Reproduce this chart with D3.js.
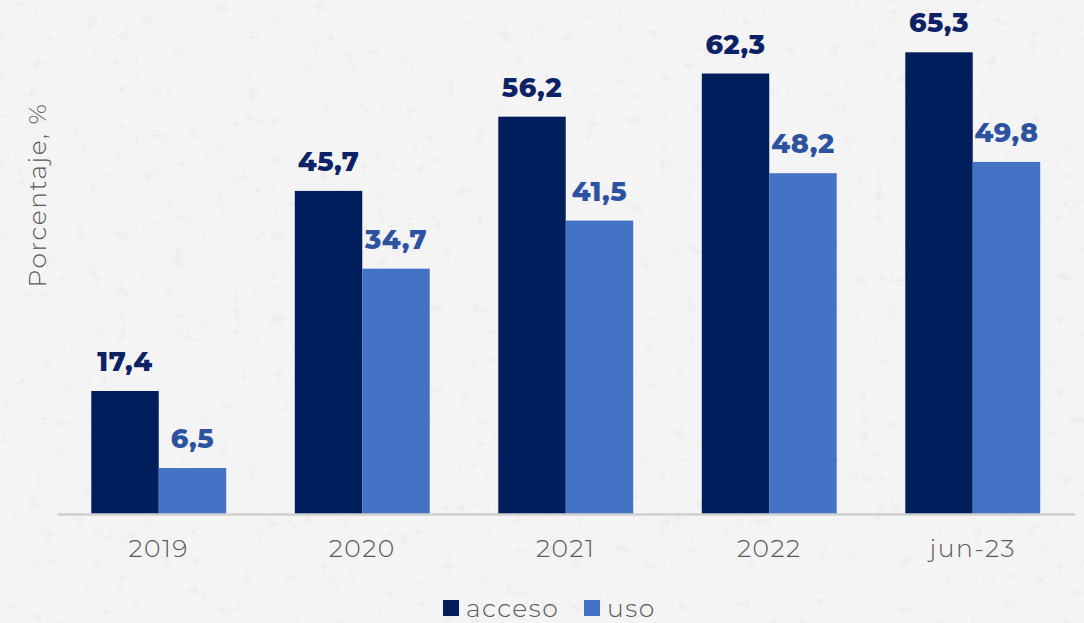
<!DOCTYPE html>
<html>
<head>
<meta charset="utf-8">
<script src="https://cdn.jsdelivr.net/npm/d3@7"></script>
<style>
  html, body { margin: 0; padding: 0; background: #f3f3f3; }
  svg { display: block; }
</style>
</head>
<body>
<svg id="chart" width="1084" height="623"></svg>
<script>
// Data
const categories = ["2019", "2020", "2021", "2022", "jun-23"];
const acceso = [17.4, 45.7, 56.2, 62.3, 65.3];
const uso = [6.5, 34.7, 41.5, 48.2, 49.8];
const seriesNames = ["acceso", "uso"];

const colors = { acceso: "#001e5b", uso: "#4472c4" };
const labelColors = { acceso: "#0d2266", uso: "#2d53a0" };
const fontFamily = "Montserrat, 'Open Sans', 'Noto Sans', sans-serif";

const W = 1084, H = 623;
const svg = d3.select("#chart");

// Speckled stone background texture
const defs = svg.append("defs");
const f = defs.append("filter").attr("id", "speckle")
  .attr("filterUnits", "userSpaceOnUse")
  .attr("x", 0).attr("y", 0).attr("width", W).attr("height", H);
f.append("feTurbulence").attr("type", "fractalNoise").attr("baseFrequency", 0.07)
  .attr("numOctaves", 4).attr("seed", 11).attr("result", "noise");
f.append("feColorMatrix").attr("in", "noise").attr("type", "matrix")
  .attr("values", "0 0 0 0 0.76  0 0 0 0 0.76  0 0 0 0 0.76  -13 0 0 0 4.05")
  .attr("result", "spots");
f.append("feComponentTransfer").attr("in", "spots")
  .append("feFuncA").attr("type", "linear").attr("slope", 0.32).attr("intercept", 0);

svg.append("rect").attr("width", W).attr("height", H).attr("fill", "#f4f4f4");
svg.append("rect").attr("width", W).attr("height", H).attr("fill", "#fff").attr("filter", "url(#speckle)");

// Scales
const baseY = 514;
const x0 = d3.scaleBand().domain(categories).range([57, 1074.5])
  .paddingInner(0.337).paddingOuter(0.337 / 2);
const x1 = d3.scaleBand().domain(seriesNames).range([0, x0.bandwidth()]).padding(0);
const y = d3.scaleLinear().domain([0, 72.7]).range([baseY, 0]);

const rows = categories.map((c, i) => ({ cat: c, acceso: acceso[i], uso: uso[i] }));

// Bars
const groups = svg.append("g").selectAll("g").data(rows).join("g")
  .attr("transform", d => `translate(${x0(d.cat)},0)`);

groups.selectAll("rect").data(d => seriesNames.map(k => ({ key: k, value: d[k] })))
  .join("rect")
  .attr("x", d => x1(d.key))
  .attr("y", d => y(d.value))
  .attr("width", x1.bandwidth())
  .attr("height", d => baseY - y(d.value))
  .attr("fill", d => colors[d.key]);

// Value labels
groups.selectAll("text").data(d => seriesNames.map(k => ({ key: k, value: d[k] })))
  .join("text")
  .attr("x", d => x1(d.key) + x1.bandwidth() / 2)
  .attr("y", d => y(d.value) - 20)
  .attr("text-anchor", "middle")
  .attr("font-family", fontFamily)
  .attr("font-weight", 800)
  .attr("font-size", 27)
  .attr("letter-spacing", 0.5)
  .attr("fill", d => labelColors[d.key])
  .text(d => d3.format(".1f")(d.value).replace(".", ","));

// X axis
const xAxis = d3.axisBottom(x0).tickSize(0).tickPadding(25);
const gx = svg.append("g").attr("transform", `translate(0,${baseY})`).call(xAxis);
gx.select(".domain").attr("stroke", "#d0d0d0").attr("stroke-width", 2.5);
gx.selectAll("text")
  .attr("font-family", fontFamily)
  .attr("font-size", 25)
  .attr("font-weight", 300)
  .attr("letter-spacing", 1.5)
  .attr("fill", "#595959");

// Y axis title
svg.append("text")
  .attr("transform", "translate(46,195) rotate(-90)")
  .attr("text-anchor", "middle")
  .attr("font-family", fontFamily)
  .attr("font-size", 25)
  .attr("font-weight", 300)
  .attr("letter-spacing", 1.5)
  .attr("fill", "#595959")
  .text("Porcentaje, %");

// Legend
const legend = svg.append("g").attr("transform", "translate(443,600)");
const legendItems = [
  { key: "acceso", x: 0 },
  { key: "uso", x: 141 }
];
const li = legend.selectAll("g").data(legendItems).join("g")
  .attr("transform", d => `translate(${d.x},0)`);
li.append("rect").attr("x", 0).attr("y", 0).attr("width", 16).attr("height", 16)
  .attr("fill", d => colors[d.key]);
li.append("text").attr("x", 23).attr("y", 17)
  .attr("font-family", fontFamily)
  .attr("font-size", 25)
  .attr("font-weight", 300)
  .attr("letter-spacing", 1.5)
  .attr("fill", "#595959")
  .text(d => d.key);
</script>
</body>
</html>
